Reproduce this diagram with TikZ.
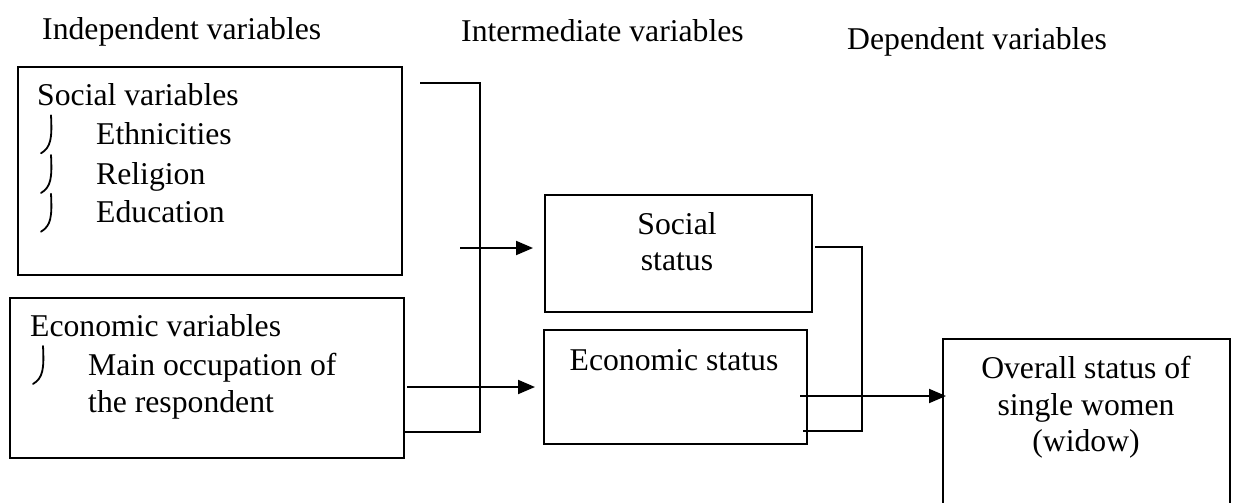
\documentclass[tikz,border=0pt]{standalone}
\usepackage{fontspec}
\setmainfont{Liberation Serif}
\usetikzlibrary{arrows.meta}
\begin{document}
\begin{tikzpicture}[x=1pt,y=-1pt,
  box/.style={draw,line width=2pt,rectangle,inner sep=0pt,anchor=north west},
  txt/.style={inner sep=0pt,anchor=base west,font=\fontsize{31.7}{39}\selectfont},
  ctxt/.style={inner sep=0pt,anchor=base,font=\fontsize{31.7}{39}\selectfont},
  conn/.style={line width=2pt},
  arr/.style={conn,-{Triangle[length=17pt,width=14pt]}},
  jhook/.pic={\draw[line width=1.8pt,line cap=round] (0,-29) .. controls (1.2,-6) and (0,3) .. (-10,9);}
]
\clip (0,0) rectangle (1234,503);
% headings
\node[txt] (h1) at (42,39.5) {Independent variables};
\node[txt] (h2) at (461,41.5) {Intermediate variables};
\node[txt] (h3) at (847,50) {Dependent variables};
% boxes
\node[box,minimum width=384pt,minimum height=208pt] (sv) at (17,66) {};
\node[box,minimum width=394pt,minimum height=160pt] (ev) at (9,297) {};
\node[box,minimum width=267pt,minimum height=117pt] (ss) at (544,194) {};
\node[box,minimum width=263pt,minimum height=114pt] (es) at (543,329) {};
\node[box,minimum width=287pt,minimum height=200pt] (ov) at (942,338) {};
% social variables
\node[txt] (sv0) at (37,105.7) {Social variables};
\node[txt] (sv1) at (96,144.3) {Ethnicities};
\node[txt] (sv2) at (96,184) {Religion};
\node[txt] (sv3) at (96,222.7) {Education};
\pic at (51,144.3) {jhook};
\pic at (51,184) {jhook};
\pic at (51,222.7) {jhook};
% economic variables
\node[txt] (ev0) at (30,336) {Economic variables};
\node[txt] (ev1) at (88,375) {Main occupation of};
\node[txt] (ev2) at (88,412.7) {the respondent};
\pic at (43,375) {jhook};
% intermediate
\node[ctxt] (ss1) at (677,234.3) {Social};
\node[ctxt] (ss2) at (677,270.7) {status};
\node[ctxt] (es1) at (674,370) {Economic status};
% dependent
\node[ctxt] (ov1) at (1086,378.3) {Overall status of};
\node[ctxt] (ov2) at (1086,415) {single women};
\node[ctxt] (ov3) at (1086,451.7) {(widow)};
% connectors
\coordinate (a1) at (420,83);
\coordinate (v1) at (480,83);
\coordinate (v2) at (480,432);
\draw[conn] (a1) -- (v1) -- (v2) -- (ev.east |- v2);
\coordinate (m1) at (460,248);
\draw[arr] (m1) -- ([xshift=-11pt]ss.west |- m1);
\coordinate (m2) at (407,387);
\draw[arr] (m2) -- ([xshift=-8pt]es.west |- m2);
\coordinate (r1) at (815,247);
\coordinate (r2) at (862,247);
\coordinate (r3) at (862,431);
\coordinate (r4) at (803,431);
\draw[conn] (r1) -- (r2) -- (r3) -- (r4);
\coordinate (o1) at (800,396);
\draw[arr] (o1) -- ([xshift=4pt]ov.west |- o1);
\end{tikzpicture}
\end{document}
